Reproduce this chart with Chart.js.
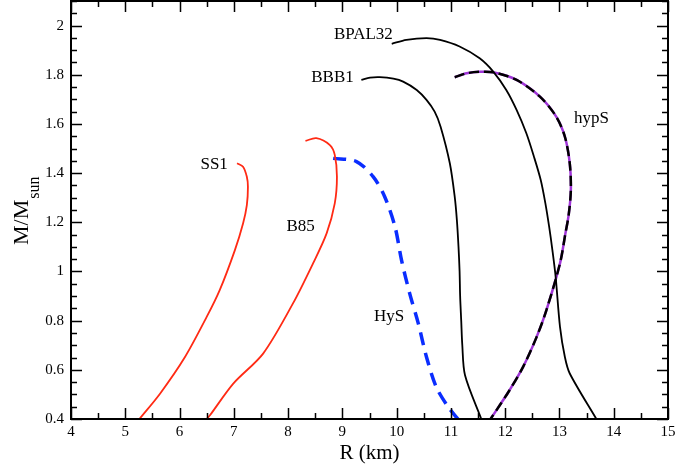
<!DOCTYPE html>
<html>
<head>
<meta charset="utf-8">
<script src="https://cdn.jsdelivr.net/npm/chart.js@4"></script>
<style>
  html, body { margin: 0; padding: 0; background: #fff; }
  #wrap { width: 699px; height: 468px; }
</style>
</head>
<body>
<div id="wrap"><canvas id="mrChart" width="699" height="468"></canvas></div>
<script>
// mass-radius curves, R in km, M in solar masses
const ss1R = [7.06, 7.17, 7.24, 7.26, 7.24, 7.17, 7.02, 6.74, 6.50, 6.10, 5.64, 5.26];
const ss1M = [1.44, 1.426, 1.385, 1.345, 1.27, 1.195, 1.087, 0.924, 0.815, 0.652, 0.503, 0.40];

const b85R = [8.32, 8.52, 8.77, 8.86, 8.90, 8.86, 8.71, 8.46, 8.09, 7.54, 6.99, 6.56, 6.50];
const b85M = [1.531, 1.542, 1.514, 1.474, 1.385, 1.277, 1.155, 1.033, 0.870, 0.666, 0.544, 0.415, 0.40];

const hysR = [8.83, 9.26, 9.57, 9.78, 9.97, 10.09, 10.24, 10.40, 10.55, 10.73, 10.95, 11.13];
const hysM = [1.46, 1.447, 1.385, 1.304, 1.182, 1.046, 0.911, 0.788, 0.652, 0.530, 0.449, 0.40];

const bbb1R = [9.35, 9.51, 9.69, 9.94, 10.12, 10.37, 10.55, 10.70, 10.81, 10.98, 11.07, 11.11,
  11.14, 11.16, 11.17, 11.19, 11.21, 11.26, 11.56];
const bbb1M = [1.779, 1.788, 1.790, 1.784, 1.772, 1.738, 1.698, 1.650, 1.589, 1.440, 1.304, 1.209,
  1.10, 1.00, 0.90, 0.80, 0.70, 0.578, 0.40];

const bpalR = [9.91, 10.18, 10.55, 10.80, 11.16, 11.53, 11.78, 12.02, 12.21, 12.39, 12.53, 12.655,
  12.74, 12.81, 12.87, 12.93, 13.01, 13.10, 13.19, 13.68];
const bpalM = [1.926, 1.942, 1.949, 1.942, 1.915, 1.867, 1.813, 1.738, 1.657, 1.562, 1.467, 1.372,
  1.278, 1.182, 1.087, 0.978, 0.775, 0.652, 0.585, 0.40];

const hypsR = [11.07, 11.29, 11.53, 11.78, 12.21, 12.64, 12.94, 13.10, 13.19, 13.21, 13.17, 13.11,
  13.01, 12.76, 12.58, 12.33, 12.08, 11.90, 11.73];
const hypsM = [1.790, 1.806, 1.812, 1.810, 1.779, 1.711, 1.630, 1.548, 1.440, 1.331, 1.230, 1.155,
  1.033, 0.843, 0.734, 0.612, 0.517, 0.456, 0.40];

const xTicks = [4, 5, 6, 7, 8, 9, 10, 11, 12, 13, 14, 15];
const yTicks = [0.4, 0.6, 0.8, 1, 1.2, 1.4, 1.6, 1.8, 2];
const curveNames = ["SS1", "B85", "HyS", "BBB1", "BPAL32", "hypS"];

const serif = "'Liberation Serif', 'DejaVu Serif', serif";

function pts(xs, ys) {
  return xs.map((x, i) => ({ x: x, y: ys[i] }));
}

function line(data, color, width, dash, tension) {
  return {
    data: data,
    showLine: true,
    borderColor: color,
    borderWidth: width,
    borderDash: dash || [],
    pointRadius: 0,
    tension: tension === undefined ? 0.3 : tension,
    fill: false
  };
}

// where the curve names go (data units) and how they're anchored
const nameSpots = {
  SS1: { x: 6.89, y: 1.433, align: "right" },
  B85: { x: 8.23, y: 1.182, align: "center" },
  HyS: { x: 9.86, y: 0.815, align: "center" },
  BBB1: { x: 9.21, y: 1.787, align: "right" },
  BPAL32: { x: 9.93, y: 1.962, align: "right" },
  hypS: { x: 13.59, y: 1.623, align: "center" }
};

const decor = {
  id: "decor",
  afterDraw(chart) {
    const c = chart.ctx;
    const a = chart.chartArea;
    const xs = chart.scales.x;
    const ys = chart.scales.y;
    c.save();
    c.strokeStyle = "#000";

    // inward ticks on all four sides
    c.lineWidth = 1.5;
    c.beginPath();
    for (let v = 4; v <= 15.001; v += 0.5) {
      const px = Math.round(xs.getPixelForValue(v)) + 0.5;
      const len = Math.abs(v - Math.round(v)) < 1e-6 ? 11 : 6;
      c.moveTo(px, a.bottom); c.lineTo(px, a.bottom - len);
      c.moveTo(px, a.top); c.lineTo(px, a.top + len);
    }
    for (let v = 0.4; v <= 2.1001; v += 0.05) {
      const py = Math.round(ys.getPixelForValue(v)) + 0.5;
      const k = Math.round(v * 100);
      const len = k % 20 === 0 ? 11 : 6;
      c.moveTo(a.left, py); c.lineTo(a.left + len, py);
      c.moveTo(a.right, py); c.lineTo(a.right - len, py);
    }
    c.stroke();

    // frame
    c.lineWidth = 2;
    c.strokeRect(a.left, a.top, a.right - a.left, a.bottom - a.top);

    // curve names
    c.fillStyle = "#000";
    c.font = "17px " + serif;
    c.textBaseline = "middle";
    curveNames.forEach(n => {
      const s = nameSpots[n];
      c.textAlign = s.align;
      c.fillText(n, xs.getPixelForValue(s.x), ys.getPixelForValue(s.y));
    });

    // x title
    c.font = "21px " + serif;
    c.textAlign = "center";
    c.textBaseline = "alphabetic";
    c.fillText("R (km)", (a.left + a.right) / 2, 459);

    // y title with subscript
    c.translate(28, 245);
    c.rotate(-Math.PI / 2);
    c.textAlign = "left";
    c.font = "22px " + serif;
    c.fillText("M/M", 0, 0);
    const w = c.measureText("M/M").width;
    c.font = "16px " + serif;
    c.fillText("sun", w + 1, 11);
    c.restore();
  }
};

new Chart(document.getElementById("mrChart"), {
  type: "scatter",
  data: {
    datasets: [
      line(pts(ss1R, ss1M), "#ff2a14", 1.8),
      line(pts(b85R, b85M), "#ff2a14", 1.8),
      line(pts(hysR, hysM), "#0a2dff", 3.5, [13, 8]),
      line(pts(bbb1R, bbb1M), "#000", 1.8),
      line(pts(bpalR, bpalM), "#000", 1.8),
      line(pts(hypsR, hypsM), "#000", 2.5, [10, 5]),
      line(pts(hypsR, hypsM), "#a035d8", 2.5)
    ]
  },
  plugins: [decor],
  options: {
    responsive: false,
    animation: false,
    events: [],
    layout: { padding: { top: 1, right: 31, left: 0, bottom: 0 } },
    plugins: { legend: { display: false }, tooltip: { enabled: false } },
    scales: {
      x: {
        type: "linear",
        min: 4,
        max: 15,
        grid: { display: false, drawTicks: false },
        border: { display: false },
        afterFit: s => { s.height = 49; s.paddingLeft = 0; s.paddingRight = 0; },
        afterBuildTicks: s => { s.ticks = xTicks.map(v => ({ value: v })); },
        ticks: {
          padding: 4,
          color: "#000",
          maxRotation: 0,
          font: { family: serif, size: 15 },
          callback: v => String(v)
        }
      },
      y: {
        type: "linear",
        min: 0.4,
        max: 2.1,
        grid: { display: false, drawTicks: false },
        border: { display: false },
        afterFit: s => { s.width = 71; s.paddingTop = 0; s.paddingBottom = 0; },
        afterBuildTicks: s => { s.ticks = yTicks.map(v => ({ value: v })); },
        ticks: {
          padding: 7,
          color: "#000",
          font: { family: serif, size: 15 },
          callback: v => String(Math.round(v * 10) / 10)
        }
      }
    }
  }
});
</script>
</body>
</html>
